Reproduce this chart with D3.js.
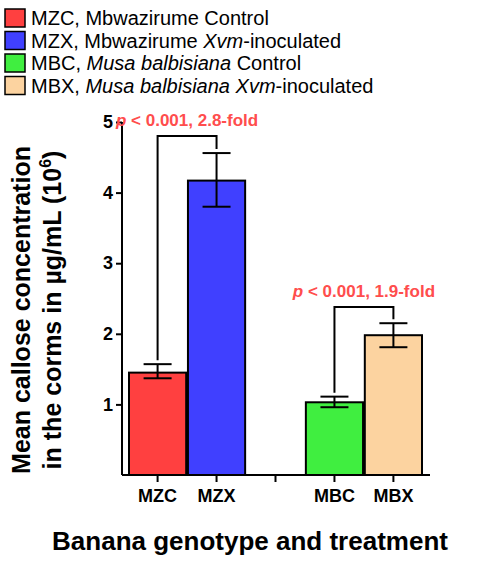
<!DOCTYPE html><html><head><script src="https://cdn.jsdelivr.net/npm/d3@7"></script>
<style>body{margin:0;font-family:Arial,"Liberation Sans",sans-serif}</style></head><body><svg id="c" width="500" height="566"></svg>
<script>
const categories=["MZC","MZX","","MBC","MBX"];
const values=[1.45,4.17,null,1.03,1.98];
const errLow=[1.37,3.80,null,0.96,1.81];
const errHigh=[1.57,4.56,null,1.11,2.15];
const colors=["#ff4040","#4040ff",null,"#40ee40","#fcd3a0"];
const legendLabels=[["MZC, Mbwazirume Control",""],["MZX, Mbwazirume ","Xvm","-inoculated"],["MBC, ","Musa balbisiana"," Control"],["MBX, ","Musa balbisiana Xvm","-inoculated"]];
const yTicks=[1,2,3,4,5];
const svg=d3.select("#c");
const x=d3.scaleBand().domain(categories.map((c,i)=>i)).range([129,422]).paddingInner(0.03);
const y=d3.scaleLinear().domain([0,5]).range([475,122]);
const g=svg.append("g");
values.forEach((v,i)=>{if(v==null)return;
 g.append("rect").attr("x",x(i)).attr("y",y(v)).attr("width",x.bandwidth()).attr("height",y(0)-y(v)).attr("fill",colors[i]).attr("stroke","#000").attr("stroke-width",2);
 const cx=x(i)+x.bandwidth()/2;
 g.append("line").attr("x1",cx).attr("x2",cx).attr("y1",y(errLow[i])).attr("y2",y(errHigh[i])).attr("stroke","#000").attr("stroke-width",2);
 [errLow[i],errHigh[i]].forEach(e=>g.append("line").attr("x1",cx-14).attr("x2",cx+14).attr("y1",y(e)).attr("y2",y(e)).attr("stroke","#000").attr("stroke-width",2));
});
const ya=svg.append("g").attr("transform","translate(122,0)").call(d3.axisLeft(y).tickValues(yTicks).tickSize(6).tickFormat(d3.format("d")));
ya.select(".domain").attr("d","M0,"+y(5)+"V"+y(0)).attr("stroke-width",2);
ya.selectAll("line").attr("stroke-width",2);
ya.selectAll("text").attr("font-size",18).attr("font-weight","bold").attr("font-family","Arial").attr("fill","#000");
const xa=svg.append("g").attr("transform","translate(0,475)").call(d3.axisBottom(x).tickSize(7).tickFormat(i=>categories[i]));
xa.select(".domain").attr("d","M122,0H430").attr("stroke-width",2);
xa.selectAll("line").attr("stroke-width",2);
xa.selectAll("text").attr("font-size",18).attr("font-weight","bold").attr("font-family","Arial").attr("fill","#000").attr("dy","0.95em");
function bracket(i,j,top,label){
 const a=x(i)+x.bandwidth()/2,b=x(j)+x.bandwidth()/2;
 g.append("path").attr("d",`M${a},${y(errHigh[i])-4}V${y(top)}H${b}V${y(errHigh[j])-4}`).attr("fill","none").attr("stroke","#000").attr("stroke-width",2);
 const t=svg.append("text").attr("x",(a+b)/2).attr("y",y(top)-10).attr("text-anchor","middle").attr("font-size",17).attr("font-weight","bold").attr("fill","#ff4d4d");
 t.append("tspan").attr("font-style","italic").text("p");t.append("tspan").text(label);
}
bracket(0,1,4.8," < 0.001, 2.8-fold");
bracket(3,4,2.38," < 0.001, 1.9-fold");
legendLabels.forEach((L,k)=>{
 const yy=9+k*22.5;
 svg.append("rect").attr("x",5).attr("y",yy).attr("width",20).attr("height",18).attr("fill",colors[[0,1,3,4][k]]).attr("stroke","#000").attr("stroke-width",1.5);
 const t=svg.append("text").attr("x",31).attr("y",yy+16).attr("font-size",20).attr("fill","#000").attr("textLength",null);
 L.forEach((s,m)=>{if(s)t.append("tspan").attr("font-style",m==1?"italic":"normal").text(s);});
});
const yl=svg.append("text").attr("transform","translate(30,310) rotate(-90)").attr("text-anchor","middle").attr("font-size",25).attr("font-weight","bold");
yl.append("tspan").attr("x",0).attr("dy",0).text("Mean callose concentration");
const l2=yl.append("tspan").attr("x",0).attr("dy",31).text("in the corms in µg/mL (10");
l2.append("tspan").attr("font-size",16).attr("dy",-10).text("6");
l2.append("tspan").attr("dy",10).text(")");
svg.append("text").attr("x",250).attr("y",550).attr("text-anchor","middle").attr("font-size",26).attr("font-weight","bold").text("Banana genotype and treatment");
</script></body></html>
